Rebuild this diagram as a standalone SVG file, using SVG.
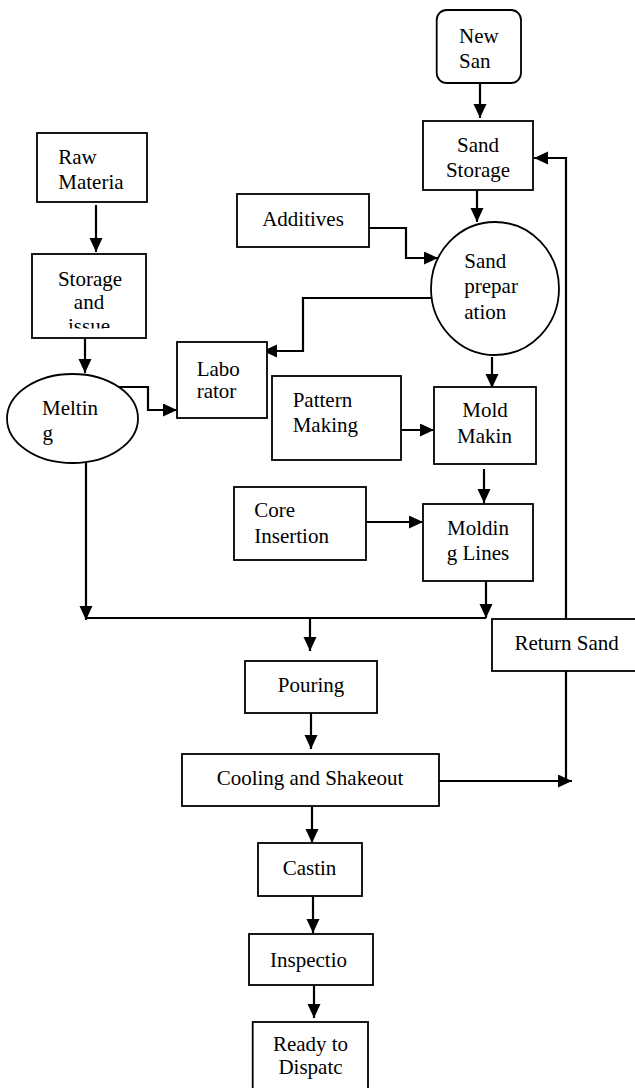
<svg xmlns="http://www.w3.org/2000/svg" width="635" height="1088" viewBox="0 0 635 1088">
<style>
.b{fill:#fff;stroke:#000;stroke-width:1.8}
.t{font-family:'Liberation Serif','Tinos','Times New Roman','DejaVu Serif',serif;font-size:21px;fill:#000}
.m{text-anchor:middle}
.c{fill:none;stroke:#000;stroke-width:2.2}
.a{marker-end:url(#ah)}
</style>
<defs>
<marker id="ah" markerUnits="userSpaceOnUse" markerWidth="15" markerHeight="14" refX="14" refY="6.5" orient="auto">
<path d="M0,0 L14,6.5 L0,13 z" fill="#000"/>
</marker>
<clipPath id="clipStorage"><rect x="32" y="254" width="114" height="74.5"/></clipPath>
</defs>
<rect width="635" height="1088" fill="#fff"/>

<g id="connectors">
<path class="c a" d="M480,83 V118"/>
<path class="c a" d="M477,190 V222"/>
<path class="c a" d="M369,228 H406 V258 H438"/>
<path class="c a" d="M432,298 H303 V351 H263"/>
<path class="c a" d="M96,205 V252"/>
<path class="c a" d="M85,338 V373"/>
<path class="c a" d="M118,387 H148 V410 H177"/>
<path class="c a" d="M86,463 V620"/>
<path class="c" d="M86,618 H486"/>
<path class="c a" d="M486,581 V618"/>
<path class="c a" d="M310,618 V651"/>
<path class="c a" d="M311,713 V749"/>
<path class="c a" d="M439,781 H572"/>
<path class="c" d="M566,671 V781"/>
<path class="c a" d="M566,619 V158 H534"/>
<path class="c a" d="M492,357 V388"/>
<path class="c a" d="M399,430 H434"/>
<path class="c a" d="M484,469 V503"/>
<path class="c a" d="M366,522 H423"/>
<path class="c a" d="M312,806 V843"/>
<path class="c a" d="M313,896 V933"/>
<path class="c a" d="M314,985 V1018"/>
</g>

<g id="new-sand">
<rect class="b" x="436.7" y="10" width="84.3" height="73" rx="10"/>
<text class="t" x="459" y="42.7">New</text>
<text class="t" x="459" y="68.3">San</text>
</g>
<g id="sand-storage">
<rect class="b" x="423" y="121" width="110" height="69"/>
<text class="t m" x="478" y="151.7">Sand</text>
<text class="t m" x="478" y="177.3">Storage</text>
</g>
<g id="additives">
<rect class="b" x="237" y="194" width="132" height="53"/>
<text class="t m" x="303" y="226">Additives</text>
</g>
<g id="sand-preparation">
<ellipse class="b" cx="495" cy="288.5" rx="64" ry="66.5"/>
<text class="t" x="464.3" y="268.3">Sand</text>
<text class="t" x="464.3" y="293.3">prepar</text>
<text class="t" x="464.3" y="319.3">ation</text>
</g>
<g id="raw-material">
<rect class="b" x="37" y="133" width="110" height="69"/>
<text class="t" x="58.3" y="164.3">Raw</text>
<text class="t" x="58.3" y="189.3">Materia</text>
</g>
<g id="storage-issue">
<rect class="b" x="32" y="254" width="114" height="84"/>
<g clip-path="url(#clipStorage)">
<text class="t m" x="90" y="285.7">Storage</text>
<text class="t m" x="89" y="309.3">and</text>
<text class="t m" x="89" y="333">issue</text>
</g>
</g>
<g id="laboratory">
<rect class="b" x="177" y="342" width="90" height="76"/>
<text class="t" x="196.7" y="376">Labo</text>
<text class="t" x="196.7" y="398.3">rator</text>
</g>
<g id="melting">
<ellipse class="b" cx="72.5" cy="418.5" rx="65.5" ry="44.5"/>
<text class="t" x="42" y="415">Meltin</text>
<text class="t" x="42.5" y="440">g</text>
</g>
<g id="pattern-making">
<rect class="b" x="272" y="376" width="129" height="84"/>
<text class="t" x="292.7" y="406.7">Pattern</text>
<text class="t" x="292.7" y="431.7">Making</text>
</g>
<g id="mold-making">
<rect class="b" x="434" y="387" width="102" height="77"/>
<text class="t m" x="485" y="417.3">Mold</text>
<text class="t m" x="484.5" y="443.3">Makin</text>
</g>
<g id="core-insertion">
<rect class="b" x="234" y="487" width="132" height="73"/>
<text class="t" x="254.3" y="517.3">Core</text>
<text class="t" x="254.3" y="542.7">Insertion</text>
</g>
<g id="molding-lines">
<rect class="b" x="423" y="504" width="110" height="77"/>
<text class="t m" x="478" y="535">Moldin</text>
<text class="t m" x="478" y="560">g Lines</text>
</g>
<g id="return-sand">
<rect class="b" x="492" y="619" width="150" height="52"/>
<text class="t m" x="566.6" y="650">Return Sand</text>
</g>
<g id="pouring">
<rect class="b" x="245" y="661" width="132" height="52"/>
<text class="t m" x="311" y="691.7">Pouring</text>
</g>
<g id="cooling-shakeout">
<rect class="b" x="182" y="754" width="257" height="52"/>
<text class="t m" x="310" y="785">Cooling and Shakeout</text>
</g>
<g id="casting">
<rect class="b" x="258" y="843" width="104" height="53"/>
<text class="t m" x="309.5" y="875">Castin</text>
</g>
<g id="inspection">
<rect class="b" x="249" y="934" width="124" height="51"/>
<text class="t m" x="308.5" y="966.7">Inspectio</text>
</g>
<g id="ready-to-dispatch">
<rect class="b" x="252.7" y="1022" width="115.3" height="80"/>
<text class="t m" x="310.5" y="1051">Ready to</text>
<text class="t m" x="310.5" y="1074">Dispatc</text>
</g>
</svg>
